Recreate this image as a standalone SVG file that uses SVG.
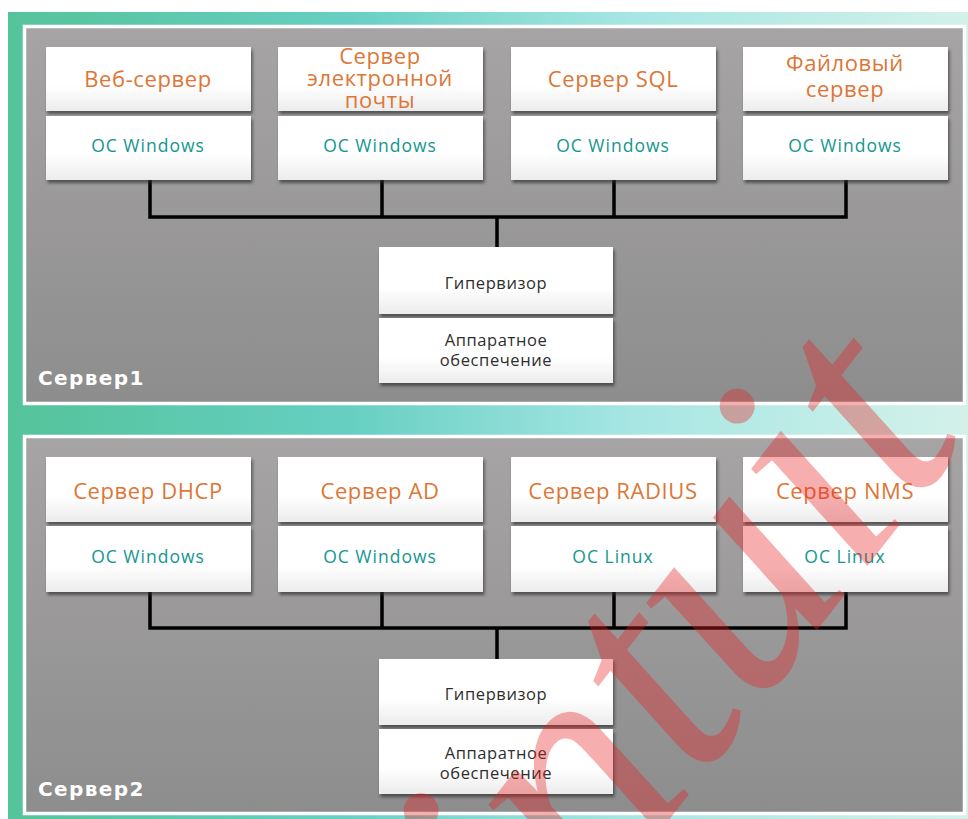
<svg xmlns="http://www.w3.org/2000/svg" width="968" height="819" viewBox="0 0 968 819">
<defs>
<linearGradient id="bg" x1="0" y1="0" x2="1" y2="0">
<stop offset="0" stop-color="#55c39a"/>
<stop offset="0.35" stop-color="#66cfc2"/>
<stop offset="0.65" stop-color="#a6e6e3"/>
<stop offset="1" stop-color="#d4f1ea"/>
</linearGradient>
<linearGradient id="panel" x1="0" y1="0" x2="0" y2="1">
<stop offset="0" stop-color="#a6a4a5"/>
<stop offset="1" stop-color="#8e8d8d"/>
</linearGradient>
<linearGradient id="box" x1="0" y1="0" x2="0" y2="1">
<stop offset="0" stop-color="#ffffff"/>
<stop offset="0.6" stop-color="#ffffff"/>
<stop offset="1" stop-color="#ececec"/>
</linearGradient>
<filter id="sh" x="-10%" y="-10%" width="125%" height="130%">
<feDropShadow dx="1.5" dy="3" stdDeviation="1.8" flood-color="#2a2a2a" flood-opacity="0.65"/>
</filter>
<style>
.panel{fill:url(#panel);stroke:#ffffff;stroke-width:3.5}
.box{fill:url(#box);filter:url(#sh)}
.app{font-family:"Open Sans","DejaVu Sans",sans-serif;font-size:22px;fill:#dd7636;text-anchor:middle;letter-spacing:0.6px}
.os{font-family:"Open Sans","DejaVu Sans",sans-serif;font-size:17.5px;font-weight:500;fill:#14968f;text-anchor:middle;letter-spacing:1px}
.hv{font-family:"Open Sans","DejaVu Sans",sans-serif;font-size:16.5px;fill:#2e2e2e;text-anchor:middle;letter-spacing:0.6px}
.lbl{font-family:"DejaVu Sans","Open Sans",sans-serif;font-weight:bold;font-size:20px;fill:#ffffff;letter-spacing:1.4px}
.conn{fill:none;stroke:#000000;stroke-width:3.5;stroke-linejoin:miter}
.wm{font-family:"Liberation Serif","DejaVu Serif",serif;font-style:italic;font-size:330px;fill:#e81e1e;fill-opacity:0.36}
</style>
</defs>
<rect x="0" y="0" width="968" height="819" fill="#ffffff"/>
<rect x="8" y="12" width="960" height="807" fill="url(#bg)"/>

<g id="server1">
<rect class="panel" x="24.5" y="26.5" width="940" height="377"/>
<text class="lbl" x="38" y="385">Сервер1</text>
</g>
<g id="server2">
<rect class="panel" x="24.5" y="436.5" width="940" height="377"/>
<text class="lbl" x="38" y="796">Сервер2</text>
</g>

<g id="connectors">
<path class="conn" d="M150,180 V217 H846 V180 M382,180 V217 M614,180 V217 M497,217 V247"/>
<path class="conn" d="M150,592 V628 H846 V592 M382,592 V628 M614,592 V628 M497,628 V659"/>
</g>

<g id="web">
<rect class="box" x="46" y="47" width="205" height="64"/>
<text class="app" x="148" y="87">Веб-сервер</text>
<rect class="box" x="46" y="116" width="205" height="64"/>
<text class="os" x="148" y="152">ОС Windows</text>
</g>
<g id="mail">
<rect class="box" x="278" y="47" width="205" height="64"/>
<text class="app" x="380" y="64">Сервер</text>
<text class="app" x="380" y="86">электронной</text>
<text class="app" x="380" y="108">почты</text>
<rect class="box" x="278" y="116" width="205" height="64"/>
<text class="os" x="380" y="152">ОС Windows</text>
</g>
<g id="sql">
<rect class="box" x="511" y="47" width="205" height="64"/>
<text class="app" x="613" y="87">Сервер SQL</text>
<rect class="box" x="511" y="116" width="205" height="64"/>
<text class="os" x="613" y="152">ОС Windows</text>
</g>
<g id="file">
<rect class="box" x="743" y="47" width="205" height="64"/>
<text class="app" x="845" y="71">Файловый</text>
<text class="app" x="845" y="97">сервер</text>
<rect class="box" x="743" y="116" width="205" height="64"/>
<text class="os" x="845" y="152">ОС Windows</text>
</g>
<g id="hv1">
<rect class="box" x="379" y="247" width="234" height="67"/>
<text class="hv" x="496" y="289">Гипервизор</text>
<rect class="box" x="379" y="318" width="234" height="65"/>
<text class="hv" x="496" y="346">Аппаратное</text>
<text class="hv" x="496" y="366">обеспечение</text>
</g>

<g id="dhcp">
<rect class="box" x="46" y="457" width="205" height="65"/>
<text class="app" x="148" y="499">Сервер DHCP</text>
<rect class="box" x="46" y="526" width="205" height="66"/>
<text class="os" x="148" y="563">ОС Windows</text>
</g>
<g id="ad">
<rect class="box" x="278" y="457" width="205" height="65"/>
<text class="app" x="380" y="499">Сервер AD</text>
<rect class="box" x="278" y="526" width="205" height="66"/>
<text class="os" x="380" y="563">ОС Windows</text>
</g>
<g id="radius">
<rect class="box" x="511" y="457" width="205" height="65"/>
<text class="app" x="613" y="499">Сервер RADIUS</text>
<rect class="box" x="511" y="526" width="205" height="66"/>
<text class="os" x="613" y="563">ОС Linux</text>
</g>
<g id="nms">
<rect class="box" x="743" y="457" width="205" height="65"/>
<text class="app" x="845" y="499">Сервер NMS</text>
<rect class="box" x="743" y="526" width="205" height="66"/>
<text class="os" x="845" y="563">ОС Linux</text>
</g>
<g id="hv2">
<rect class="box" x="379" y="659" width="234" height="66"/>
<text class="hv" x="496" y="700">Гипервизор</text>
<rect class="box" x="379" y="729" width="234" height="65"/>
<text class="hv" x="496" y="759">Аппаратное</text>
<text class="hv" x="496" y="779">обеспечение</text>
</g>

<text class="wm" transform="translate(540,985) rotate(-52)">intuit</text>
</svg>
